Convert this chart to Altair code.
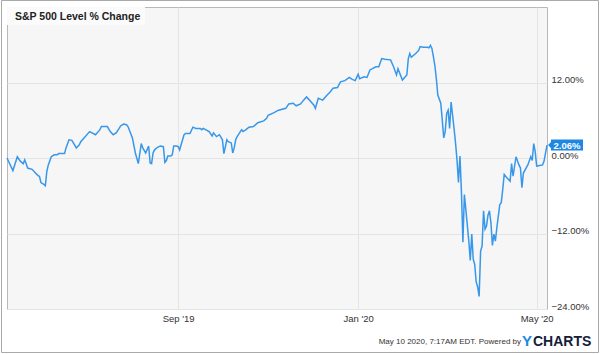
import altair as alt
import pandas as pd

dates = [
    "2019-05-08", "2019-05-12", "2019-05-15", "2019-05-17", "2019-05-19", "2019-05-20", "2019-05-21",
    "2019-05-22", "2019-05-25", "2019-05-27", "2019-05-29", "2019-05-30", "2019-05-31", "2019-06-02",
    "2019-06-03", "2019-06-04", "2019-06-05", "2019-06-07", "2019-06-09", "2019-06-11", "2019-06-12",
    "2019-06-16", "2019-06-17", "2019-06-19", "2019-06-21", "2019-06-24", "2019-06-26", "2019-06-27",
    "2019-07-03", "2019-07-07", "2019-07-10", "2019-07-11", "2019-07-15", "2019-07-17", "2019-07-19",
    "2019-07-21", "2019-07-23", "2019-07-24", "2019-07-26", "2019-07-28", "2019-07-29", "2019-08-01",
    "2019-08-03", "2019-08-05", "2019-08-07", "2019-08-08", "2019-08-10", "2019-08-12", "2019-08-13",
    "2019-08-14", "2019-08-15", "2019-08-16", "2019-08-18", "2019-08-19", "2019-08-20", "2019-08-22",
    "2019-08-23", "2019-08-24", "2019-08-25", "2019-08-27", "2019-08-28", "2019-08-29", "2019-08-31",
    "2019-09-01", "2019-09-02", "2019-09-03", "2019-09-04", "2019-09-05", "2019-09-06", "2019-09-09",
    "2019-09-11", "2019-09-13", "2019-09-16", "2019-09-17", "2019-09-18", "2019-09-22", "2019-09-24",
    "2019-09-25", "2019-09-27", "2019-09-29", "2019-10-01", "2019-10-02", "2019-10-04", "2019-10-05",
    "2019-10-07", "2019-10-08", "2019-10-09", "2019-10-10", "2019-10-11", "2019-10-14", "2019-10-15",
    "2019-10-17", "2019-10-19", "2019-10-22", "2019-10-25", "2019-10-29", "2019-10-31", "2019-11-01",
    "2019-11-05", "2019-11-08", "2019-11-13", "2019-11-15", "2019-11-18", "2019-11-20", "2019-11-23",
    "2019-11-25", "2019-11-27", "2019-11-29", "2019-12-02", "2019-12-03", "2019-12-05", "2019-12-08",
    "2019-12-11", "2019-12-13", "2019-12-15", "2019-12-18", "2019-12-20", "2019-12-23", "2019-12-26",
    "2019-12-28", "2019-12-30", "2020-01-01", "2020-01-02", "2020-01-05", "2020-01-07", "2020-01-09",
    "2020-01-13", "2020-01-15", "2020-01-17", "2020-01-19", "2020-01-23", "2020-01-25", "2020-01-27",
    "2020-01-28", "2020-01-31", "2020-02-03", "2020-02-04", "2020-02-05", "2020-02-06", "2020-02-09",
    "2020-02-11", "2020-02-12", "2020-02-14", "2020-02-17", "2020-02-18", "2020-02-19", "2020-02-20",
    "2020-02-21", "2020-02-22", "2020-02-23", "2020-02-24", "2020-02-26", "2020-02-27", "2020-02-28",
    "2020-02-29", "2020-03-01", "2020-03-02", "2020-03-03", "2020-03-04", "2020-03-06", "2020-03-07",
    "2020-03-08", "2020-03-09", "2020-03-10", "2020-03-11", "2020-03-12", "2020-03-13", "2020-03-14",
    "2020-03-16", "2020-03-17", "2020-03-18", "2020-03-19", "2020-03-20", "2020-03-21", "2020-03-22",
    "2020-03-23", "2020-03-24", "2020-03-25", "2020-03-26", "2020-03-27", "2020-03-28", "2020-03-29",
    "2020-03-30", "2020-03-31", "2020-04-01", "2020-04-02", "2020-04-03", "2020-04-04", "2020-04-06",
    "2020-04-07", "2020-04-08", "2020-04-09", "2020-04-11", "2020-04-13", "2020-04-14", "2020-04-15",
    "2020-04-17", "2020-04-19", "2020-04-20", "2020-04-21", "2020-04-22", "2020-04-25", "2020-04-27",
    "2020-04-28", "2020-04-29", "2020-04-30", "2020-05-01", "2020-05-03", "2020-05-05", "2020-05-06",
    "2020-05-08",
]

values = [
    0.0, -2.0, 0.2, -0.5, -0.9, -0.3, -0.9,
    -1.6, -1.8, -2.3, -2.8, -2.9, -3.9, -4.2,
    -4.4, -2.1, -1.1, 0.2, 0.5, 0.5, 0.7,
    0.7, 1.6, 2.9, 2.8, 1.6, 2.1, 2.6,
    4.2, 3.7, 4.5, 5.0, 5.0, 4.2, 3.7,
    4.0, 4.7, 5.1, 5.4, 5.3, 5.0, 3.2,
    0.8, -0.9, 2.3, 1.6, 0.8, 1.9, -0.8,
    -0.9, 0.8, 1.3, 1.7, 1.8, 1.9, 1.8,
    -0.7, -0.4, 0.3, 0.3, 0.5, 1.9, 1.9,
    1.8, 1.3, 2.1, 2.9, 3.7, 3.9, 3.9,
    4.9, 4.7, 4.7, 4.5, 4.7, 4.2, 3.5,
    4.0, 3.4, 3.7, 2.9, 0.7, 2.9, 2.6,
    2.4, 0.8, 1.6, 2.9, 3.4, 4.5, 4.2,
    4.5, 4.9, 5.0, 5.6, 5.9, 6.3, 6.8,
    7.2, 7.6, 7.9, 8.6, 8.7, 8.3, 8.6,
    9.2, 9.7, 9.2, 8.4, 7.9, 9.5, 9.2,
    10.0, 10.5, 11.1, 11.2, 12.1, 12.3, 12.8,
    12.5, 12.3, 13.3, 12.6, 12.9, 12.8, 14.0,
    14.5, 14.5, 15.8, 15.7, 15.6, 14.5, 13.2,
    14.2, 12.4, 13.2, 15.8, 16.6, 16.0, 16.6,
    17.1, 17.7, 17.6, 17.6, 17.5, 17.9, 17.4,
    16.1, 14.7, 12.6, 10.0, 8.7, 6.1, 3.2,
    4.2, 7.1, 7.6, 4.7, 8.9, 4.7, 2.4,
    -0.3, -3.9, 0.3, -5.3, -13.4, -5.8, -8.2,
    -13.2, -16.3, -12.1, -16.1, -16.9, -19.7, -20.5,
    -22.0, -14.8, -14.0, -8.4, -11.3, -10.8, -9.1,
    -8.4, -10.3, -13.9, -12.1, -13.2, -11.1, -7.4,
    -7.1, -5.0, -2.6, -3.2, -3.7, -0.9, -2.9,
    0.2, -1.1, -1.6, -4.7, -2.4, -1.1, 0.2,
    -0.4, 2.3, 1.0, -1.3, -1.2, -1.1, -0.5,
    2.06,
]

title_text = "S&P 500 Level % Change"
y_ticks = [-24, -12, 0, 12]
footer_text = "May 10 2020, 7:17AM EDT.  Powered by"

FONT = "Liberation Sans"
LINE_COLOR = "#3797ea"
LABEL_COLOR = "#1e87e4"

df = pd.DataFrame({"date": dates, "value": values})
last = pd.DataFrame({"date": [dates[-1]], "value": [values[-1]],
                     "label": [f"{values[-1]:.2f}%"]})
one = pd.DataFrame({"k": [0]})

x_enc = alt.X(
    "date:T",
    scale=alt.Scale(type="utc",
                    domain=[alt.DateTime(year=2019, month=5, date=8, utc=True),
                            alt.DateTime(year=2020, month=5, date=8, utc=True)]),
    axis=alt.Axis(
        values=[alt.DateTime(year=2019, month=9, date=1, utc=True),
                alt.DateTime(year=2020, month=1, date=1, utc=True),
                alt.DateTime(year=2020, month=5, date=1, utc=True)],
        labelExpr="utcFormat(datum.value, \"%b '%y\")",
        title=None, domain=False, ticks=False, grid=True,
        gridColor="#e4e4e4", gridWidth=1,
        labelFont=FONT, labelFontSize=9.5, labelColor="#333333",
        labelPadding=4, labelBaseline="top",
    ),
)
y_enc = alt.Y(
    "value:Q",
    scale=alt.Scale(domain=[-24, 24], nice=False, zero=False),
    axis=alt.Axis(
        orient="right", values=y_ticks,
        labelExpr="format(datum.value, '.2f') + '%'",
        title=None, domain=False, ticks=False, grid=True,
        gridColor="#e4e4e4", gridWidth=1,
        labelFont=FONT, labelFontSize=9.5, labelColor="#333333",
        labelPadding=4, labelBaseline="alphabetic",
    ),
)

line = alt.Chart(df).mark_line(color=LINE_COLOR, strokeWidth=1.5).encode(x=x_enc, y=y_enc)

end_box = alt.Chart(last).mark_point(
    shape="M 0.1 0 L 0.4 -0.3 L 0.4 -0.55 L 3.6 -0.55 L 3.6 0.55 L 0.4 0.55 L 0.4 0.3 Z",
    size=400, filled=True, fill=LABEL_COLOR, stroke=None, opacity=1,
).encode(x="date:T", y="value:Q")

end_text = alt.Chart(last).mark_text(
    font=FONT, fontSize=9.5, fontWeight="bold", color="white",
    align="center", baseline="middle", dx=20, dy=0.5,
).encode(x="date:T", y="value:Q", text="label:N")

title_box = alt.Chart(one).mark_rect(fill="#fbfbfb").encode(
    x=alt.value(0), x2=alt.value(138), y=alt.value(0), y2=alt.value(18))
title = alt.Chart(one).mark_text(
    text=title_text, font=FONT, fontSize=10.5, fontWeight="bold", color="#222222",
    align="left", baseline="middle").encode(x=alt.value(8), y=alt.value(9.5))

outer = alt.Chart(one).mark_rect(fill=None, stroke="#a9a9a9", strokeWidth=1, clip=False).encode(
    x=alt.value(-5.5), x2=alt.value(591.5), y=alt.value(-6.5), y2=alt.value(345.5))

footer = alt.Chart(one).mark_text(
    text=footer_text, font=FONT, fontSize=8, color="#333333",
    align="right", baseline="alphabetic").encode(x=alt.value(514), y=alt.value(337))
logo_y = alt.Chart(one).mark_text(
    text="Y", font=FONT, fontSize=15, fontWeight="bold", color="#1a8ae6",
    align="left", baseline="alphabetic").encode(x=alt.value(515), y=alt.value(338.5))
logo_rest = alt.Chart(one).mark_text(
    text="CHARTS", font=FONT, fontSize=14, fontWeight="bold", color="#14203a",
    align="left", baseline="alphabetic").encode(x=alt.value(526), y=alt.value(338.5))

chart = alt.layer(
    title_box, line, title, end_box, end_text, outer, footer, logo_y, logo_rest
).properties(
    width=540, height=302,
    autosize=alt.AutoSizeParams(type="none"),
    padding={"left": 7, "top": 7, "right": 53, "bottom": 45},
    background="white",
).configure_view(
    stroke="#b8b8b8", strokeWidth=1, fill="#f6f6f6"
)

chart.save("out.html", embed_options={"renderer": "svg", "actions": False})
